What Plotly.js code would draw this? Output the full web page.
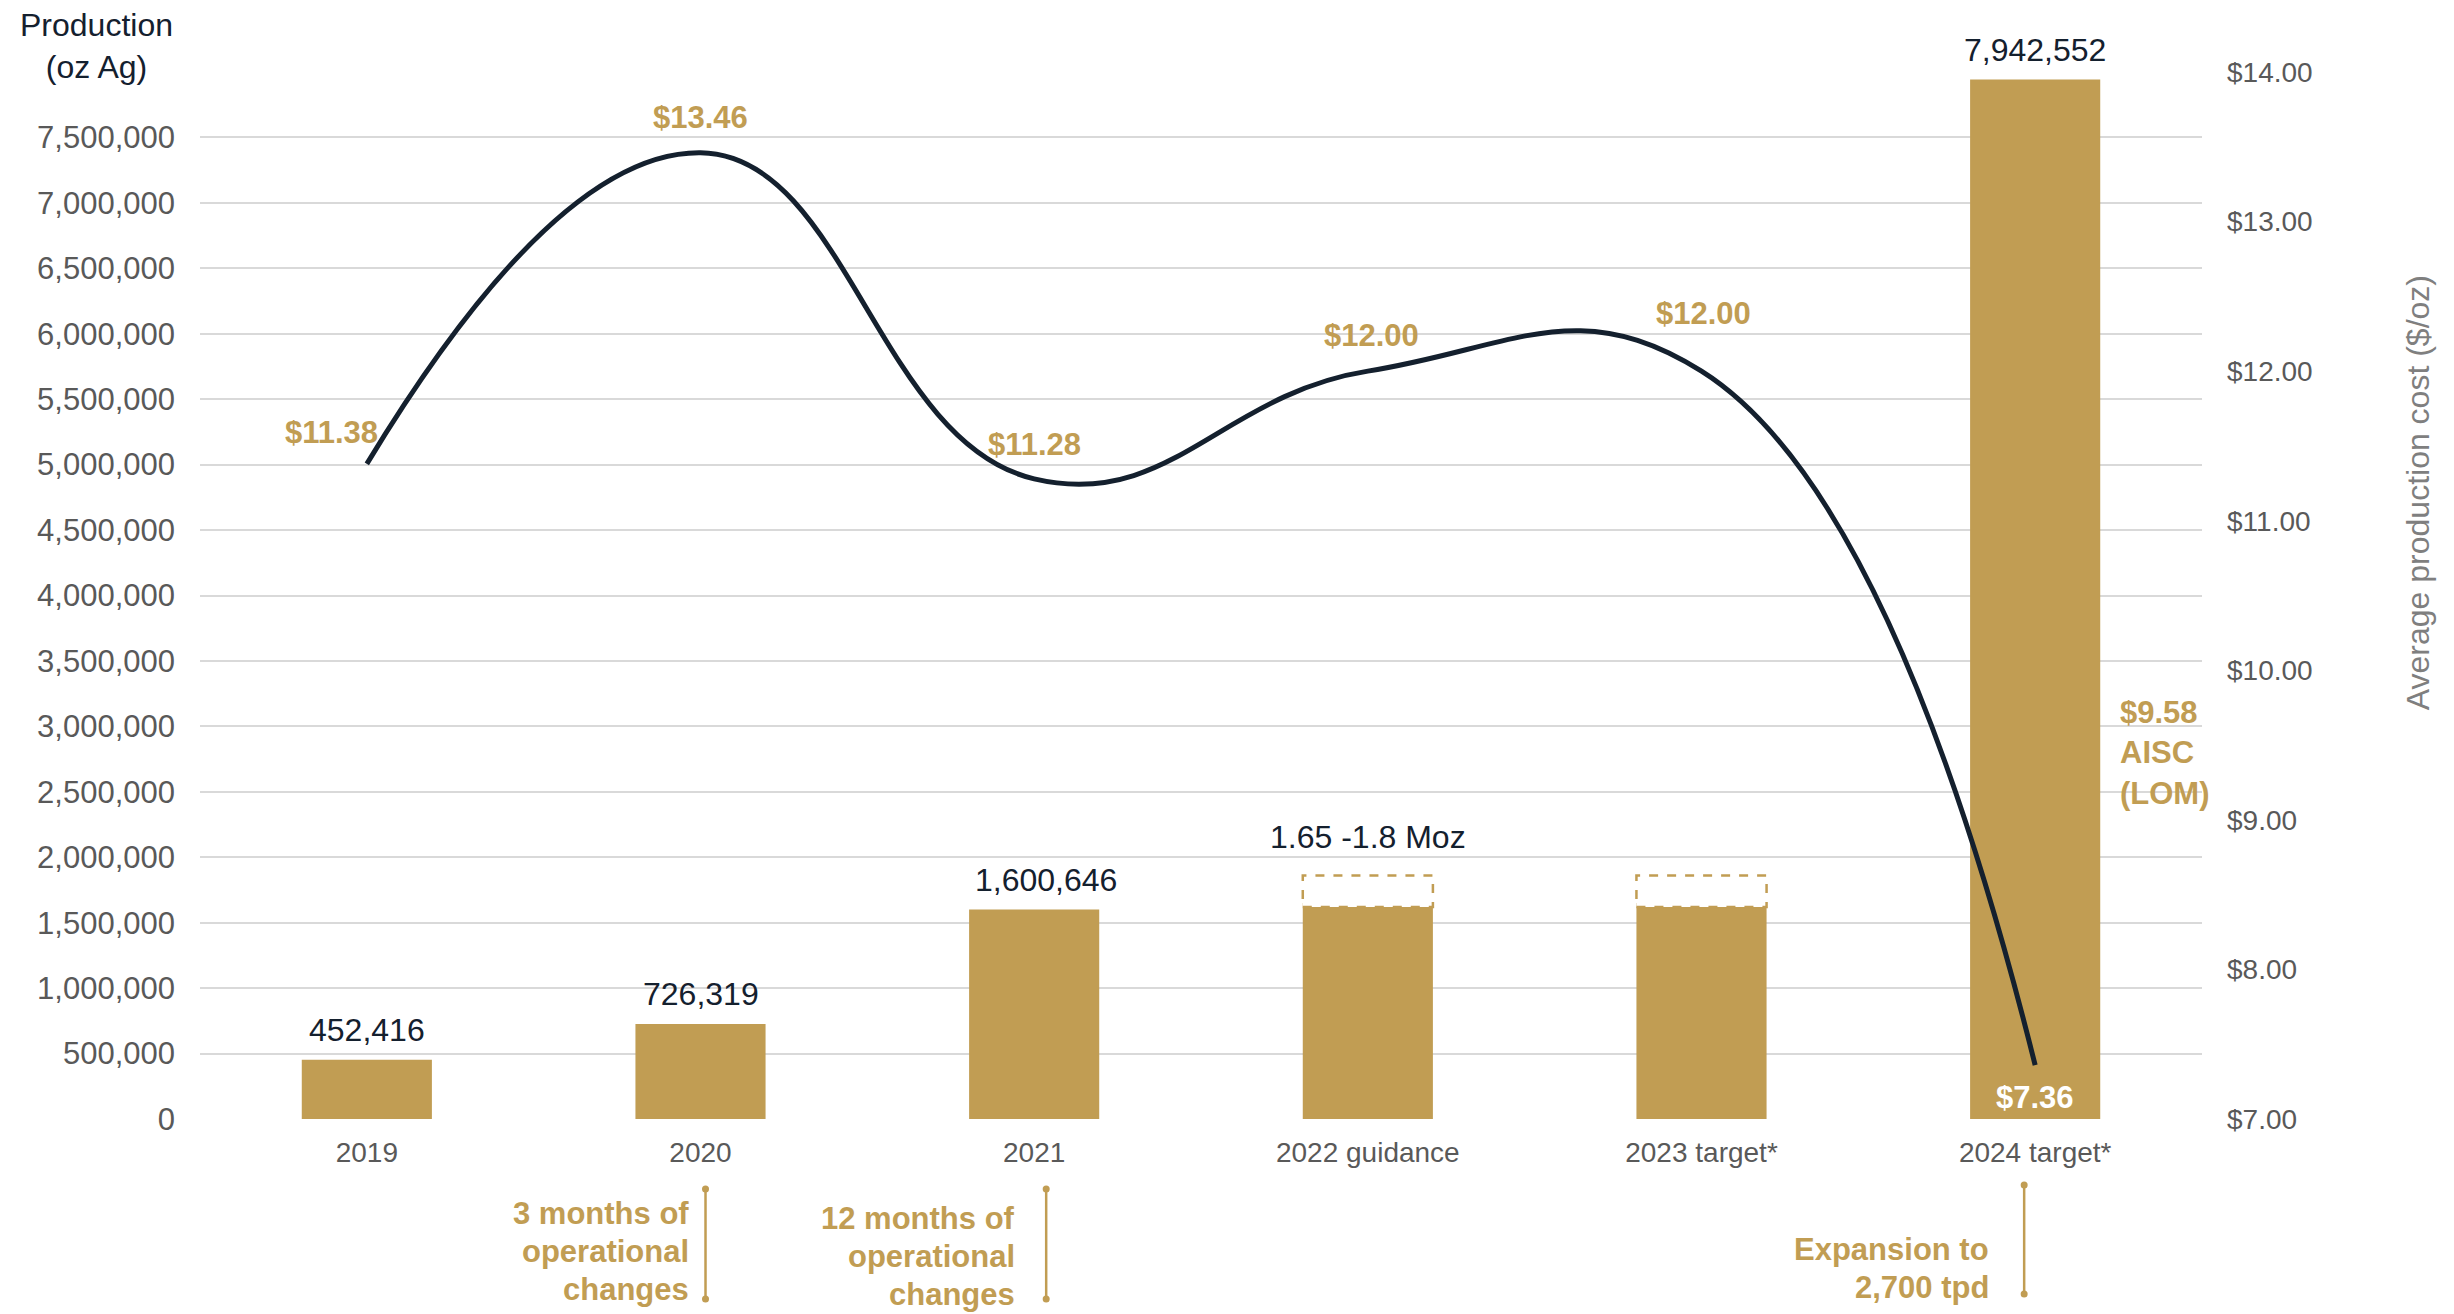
<!DOCTYPE html>
<html>
<head>
<meta charset="utf-8">
<script src="https://cdn.plot.ly/plotly-3.0.1.min.js"></script>
<style>html,body{margin:0;padding:0;background:#fff;}#chart{width:2454px;height:1314px;}</style>
</head>
<body>
<div id="chart"></div>
<script>
// ---- data ----
const years = ['2019', '2020', '2021', '2022 guidance', '2023 target*', '2024 target*'];
const production = [452416, 726319, 1600646, 1650000, 1650000, 7942552];
const productionLabels = ['452,416', '726,319', '1,600,646', '1.65 -1.8 Moz', '', '7,942,552'];
const rangeLow = [null, null, null, 1620000, 1620000, null];
const rangeHigh = [null, null, null, 1860000, 1860000, null];
const cost = [11.38, 13.46, 11.28, 12.00, 12.00, 7.36];
const costLabels = ['$11.38', '$13.46', '$11.28', '$12.00', '$12.00', '$7.36'];
const aiscLom = 9.58;
const aiscText = '$9.58<br>AISC<br>(LOM)';
const leftTicks = [0, 500000, 1000000, 1500000, 2000000, 2500000, 3000000, 3500000, 4000000, 4500000, 5000000, 5500000, 6000000, 6500000, 7000000, 7500000];
const notes = [
  {year: '2020', lines: ['3 months of', 'operational', 'changes']},
  {year: '2021', lines: ['12 months of', 'operational', 'changes']},
  {year: '2024 target*', lines: ['Expansion to', '2,700 tpd']}
];

// ---- styles / positions ----
const GOLD = '#C19D53';
const NAVY = '#14202E';
const GREY = '#595959';
const FONT = 'Arial, "Liberation Sans", sans-serif';
const barLabelShiftX = [0, 0, 12, 0, 0, 0];
const costShiftX = [-35, 0, 0, 4, 2, 0];
const costShiftY = [31, 35, 34, 36, 58, -32];
const PLOT_TOP = 72, PLOT_BOTTOM = 1119;
const pxToPaper = py => (PLOT_BOTTOM - py) / (PLOT_BOTTOM - PLOT_TOP);
const noteLayout = [
  {textShift: -10, lineOff: 0.015, firstLine: 1213, y0: 1189, y1: 1299},
  {textShift: -17, lineOff: 0.036, firstLine: 1218, y0: 1189, y1: 1299},
  {textShift: -44, lineOff: -0.033, firstLine: 1249, y0: 1185, y1: 1294}
];
const NOTE_LINE_GAP = 38;
const barHalf = 0.195;

const traces = [
  {
    type: 'bar', x: years, y: production, yaxis: 'y',
    marker: {color: GOLD}, hoverinfo: 'skip', showlegend: false
  },
  {
    type: 'scatter', mode: 'lines', x: years, y: cost, yaxis: 'y2',
    line: {color: NAVY, width: 5, shape: 'spline', smoothing: 1.3},
    hoverinfo: 'skip', showlegend: false
  }
];

const annotations = [];
const shapes = [];

// bar value labels
years.forEach((yr, i) => {
  if (!productionLabels[i]) return;
  const top = rangeHigh[i] != null ? rangeHigh[i] : production[i];
  annotations.push({
    x: i, y: top, xref: 'x', yref: 'y', text: productionLabels[i], showarrow: false,
    yanchor: 'middle', yshift: rangeHigh[i] != null ? 39 : 30, xshift: barLabelShiftX[i],
    font: {family: FONT, size: 32, color: NAVY}
  });
});

// dashed range boxes
years.forEach((yr, i) => {
  if (rangeLow[i] == null) return;
  shapes.push({
    type: 'rect', xref: 'x', yref: 'y', x0: i - barHalf, x1: i + barHalf,
    y0: rangeLow[i], y1: rangeHigh[i], fillcolor: '#ffffff',
    line: {color: GOLD, width: 2.5, dash: 'dash'}, layer: 'above'
  });
});

// cost labels
years.forEach((yr, i) => {
  annotations.push({
    x: i, y: cost[i], xref: 'x', yref: 'y2', text: '<b>' + costLabels[i] + '</b>', showarrow: false,
    xshift: costShiftX[i], yshift: costShiftY[i],
    font: {family: FONT, size: 31, color: i === 5 ? '#ffffff' : GOLD}
  });
});

// AISC label
annotations.push({
  x: 5, y: aiscLom, xref: 'x', yref: 'y2', text: '<b>' + aiscText + '</b>', showarrow: false,
  xanchor: 'left', xshift: 83, yanchor: 'middle', yshift: -20, align: 'left',
  font: {family: FONT, size: 31, color: GOLD}
});

// notes below axis
notes.forEach((n, k) => {
  const L = noteLayout[k];
  const idx = years.indexOf(n.year);
  n.lines.forEach((t, j) => {
    annotations.push({
      x: idx, y: pxToPaper(L.firstLine + j * NOTE_LINE_GAP), xref: 'x', yref: 'paper',
      text: '<b>' + t + '</b>', showarrow: false,
      xanchor: 'right', xshift: L.textShift, yanchor: 'middle', align: 'right',
      font: {family: FONT, size: 31, color: GOLD}
    });
  });
  const lx = idx + L.lineOff;
  const py0 = pxToPaper(L.y0), py1 = pxToPaper(L.y1);
  shapes.push({type: 'line', xref: 'x', yref: 'paper', x0: lx, x1: lx, y0: py0, y1: py1,
    line: {color: GOLD, width: 2.5}});
  [py0, py1].forEach(yy => {
    shapes.push({type: 'circle', xref: 'x', yref: 'paper', xsizemode: 'pixel', ysizemode: 'pixel',
      xanchor: lx, yanchor: yy, x0: -3.5, x1: 3.5, y0: -3.5, y1: 3.5,
      fillcolor: GOLD, line: {color: GOLD, width: 0}});
  });
});

// axis titles
annotations.push({
  xref: 'paper', yref: 'paper', x: -0.0515, y: 1.0253, yanchor: 'middle', xanchor: 'center',
  text: 'Production<br>(oz Ag)', showarrow: false, align: 'center',
  font: {family: FONT, size: 32, color: NAVY}
});
annotations.push({
  xref: 'paper', yref: 'paper', x: 1.1076, y: 0.5981, xanchor: 'center', yanchor: 'middle',
  text: 'Average production cost ($/oz)', textangle: -90, showarrow: false,
  font: {family: FONT, size: 32, color: '#7F7F7F'}
});

const layout = {
  width: 2454, height: 1314,
  margin: {l: 200, r: 252, t: 72, b: 195, pad: 0},
  paper_bgcolor: '#ffffff', plot_bgcolor: '#ffffff',
  font: {family: FONT, color: GREY},
  bargap: 0.61,
  showlegend: false,
  xaxis: {
    type: 'category', range: [-0.5, 5.5], tickfont: {family: FONT, size: 28, color: GREY},
    showgrid: false, zeroline: false, showline: false, ticks: '', ticklabelstandoff: 14,
    fixedrange: true
  },
  yaxis: {
    range: [0, 8000000], tickvals: leftTicks, tickformat: ',d',
    tickfont: {family: FONT, size: 31, color: GREY},
    showgrid: true, gridcolor: '#D9D9D9', gridwidth: 2, zeroline: false, showline: false,
    ticks: '', ticklabelstandoff: 24, fixedrange: true
  },
  yaxis2: {
    overlaying: 'y', side: 'right', range: [7, 14], dtick: 1, tick0: 7, tickformat: '.2f', tickprefix: '$',
    tickfont: {family: FONT, size: 28, color: GREY},
    showgrid: false, zeroline: false, showline: false, ticks: '', ticklabelstandoff: 24, fixedrange: true
  },
  annotations: annotations,
  shapes: shapes
};

Plotly.newPlot('chart', traces, layout, {displayModeBar: false, staticPlot: true});
</script>
</body>
</html>
